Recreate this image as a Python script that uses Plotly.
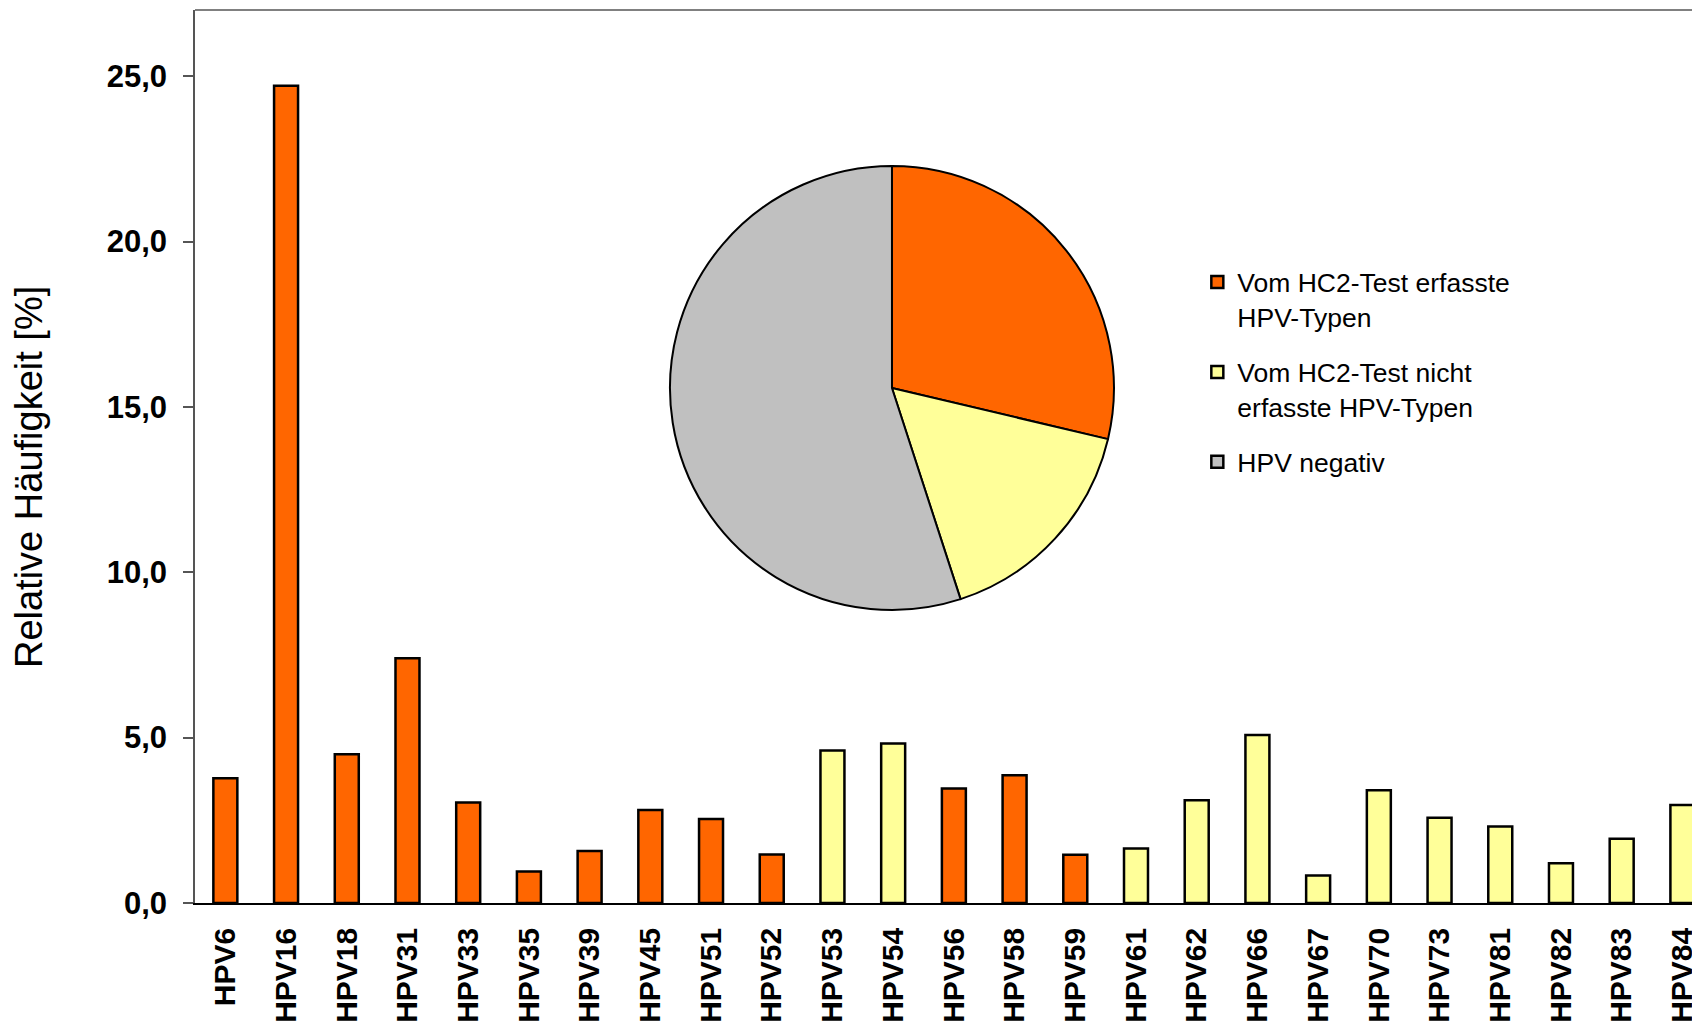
import plotly.graph_objects as go

# ---- data ----
categories = ["HPV6", "HPV16", "HPV18", "HPV31", "HPV33", "HPV35", "HPV39", "HPV45",
              "HPV51", "HPV52", "HPV53", "HPV54", "HPV56", "HPV58", "HPV59", "HPV61",
              "HPV62", "HPV66", "HPV67", "HPV70", "HPV73", "HPV81", "HPV82", "HPV83", "HPV84"]
values = [3.77, 24.71, 4.50, 7.40, 3.04, 0.95, 1.57, 2.81,
          2.54, 1.47, 4.61, 4.82, 3.46, 3.86, 1.46, 1.65,
          3.11, 5.08, 0.83, 3.41, 2.58, 2.31, 1.20, 1.94, 2.96]
# True = detected by the HC2 test (orange), False = not detected (yellow)
hc2_detected = [True, True, True, True, True, True, True, True,
                True, True, False, False, True, True, True, False,
                False, False, False, False, False, False, False, False, False]

pie_labels = ["Vom HC2-Test erfasste<br>HPV-Typen",
              "Vom HC2-Test nicht<br>erfasste HPV-Typen",
              "HPV negativ"]
pie_values = [28.7, 16.3, 55.0]

y_ticks = [0, 5, 10, 15, 20, 25]

ORANGE = "#FF6600"
YELLOW = "#FFFF99"
GRAY = "#C0C0C0"
FONT = "Liberation Sans, Arial, sans-serif"

fig = go.Figure()

orange_vals = [v if d else None for v, d in zip(values, hc2_detected)]
yellow_vals = [None if d else v for v, d in zip(values, hc2_detected)]

fig.add_trace(go.Bar(x=categories, y=orange_vals, name=pie_labels[0],
                     marker=dict(color=ORANGE, line=dict(color="black", width=2.5)),
                     width=0.395, legendgroup="a"))
fig.add_trace(go.Bar(x=categories, y=yellow_vals, name=pie_labels[1],
                     marker=dict(color=YELLOW, line=dict(color="black", width=2.5)),
                     width=0.395, legendgroup="b"))
# legend-only entry for the grey pie slice
fig.add_trace(go.Bar(x=[categories[0]], y=[None], name=pie_labels[2],
                     marker=dict(color=GRAY, line=dict(color="black", width=2.5)),
                     width=0.395, legendgroup="c"))

fig.add_trace(go.Pie(labels=pie_labels, values=pie_values,
                     marker=dict(colors=[ORANGE, YELLOW, GRAY], line=dict(color="black", width=2)),
                     sort=False, direction="clockwise", rotation=0,
                     textinfo="none", showlegend=False,
                     domain=dict(x=[0.3156, 0.6106], y=[0.3281, 0.8253])))

fig.update_layout(
    width=1692, height=1016,
    margin=dict(l=187, r=0, t=2, b=121),
    paper_bgcolor="white", plot_bgcolor="white",
    barmode="overlay",
    separators=",.",
    font=dict(family=FONT, color="black"),
    showlegend=True,
    legend=dict(x=0.666, y=0.722, xanchor="left", yanchor="top",
                font=dict(family=FONT, size=26.5, color="black"),
                valign="top", tracegroupgap=18, bgcolor="rgba(0,0,0,0)"),
    xaxis=dict(categoryorder="array", categoryarray=categories,
               range=[-0.5, 24.29], showline=True, linecolor="black", linewidth=1.5,
               ticks="", tickangle=-90, ticklabelstandoff=11,
               tickfont=dict(family=FONT, size=30, weight="bold", color="black"),
               showgrid=False, zeroline=False),
    yaxis=dict(range=[0, 27], tickvals=y_ticks, tickformat=".1f",
               showline=True, linecolor="#555555", linewidth=1.5,
               ticks="outside", ticklen=10, tickcolor="#555555", tickwidth=1.5,
               ticklabelstandoff=10,
               tickfont=dict(family=FONT, size=31, weight="bold", color="black"),
               showgrid=False, zeroline=False),
    shapes=[dict(type="line", xref="paper", yref="paper", x0=0, x1=1, y0=1, y1=1,
                 line=dict(color="#808080", width=2))],
    annotations=[dict(text="Relative Häufigkeit [%]", xref="paper", yref="paper",
                      x=-0.1103, y=0.477, textangle=-90, showarrow=False,
                      xanchor="center", yanchor="middle",
                      font=dict(family=FONT, size=38, color="black"))],
)

fig.write_html("out.html")
